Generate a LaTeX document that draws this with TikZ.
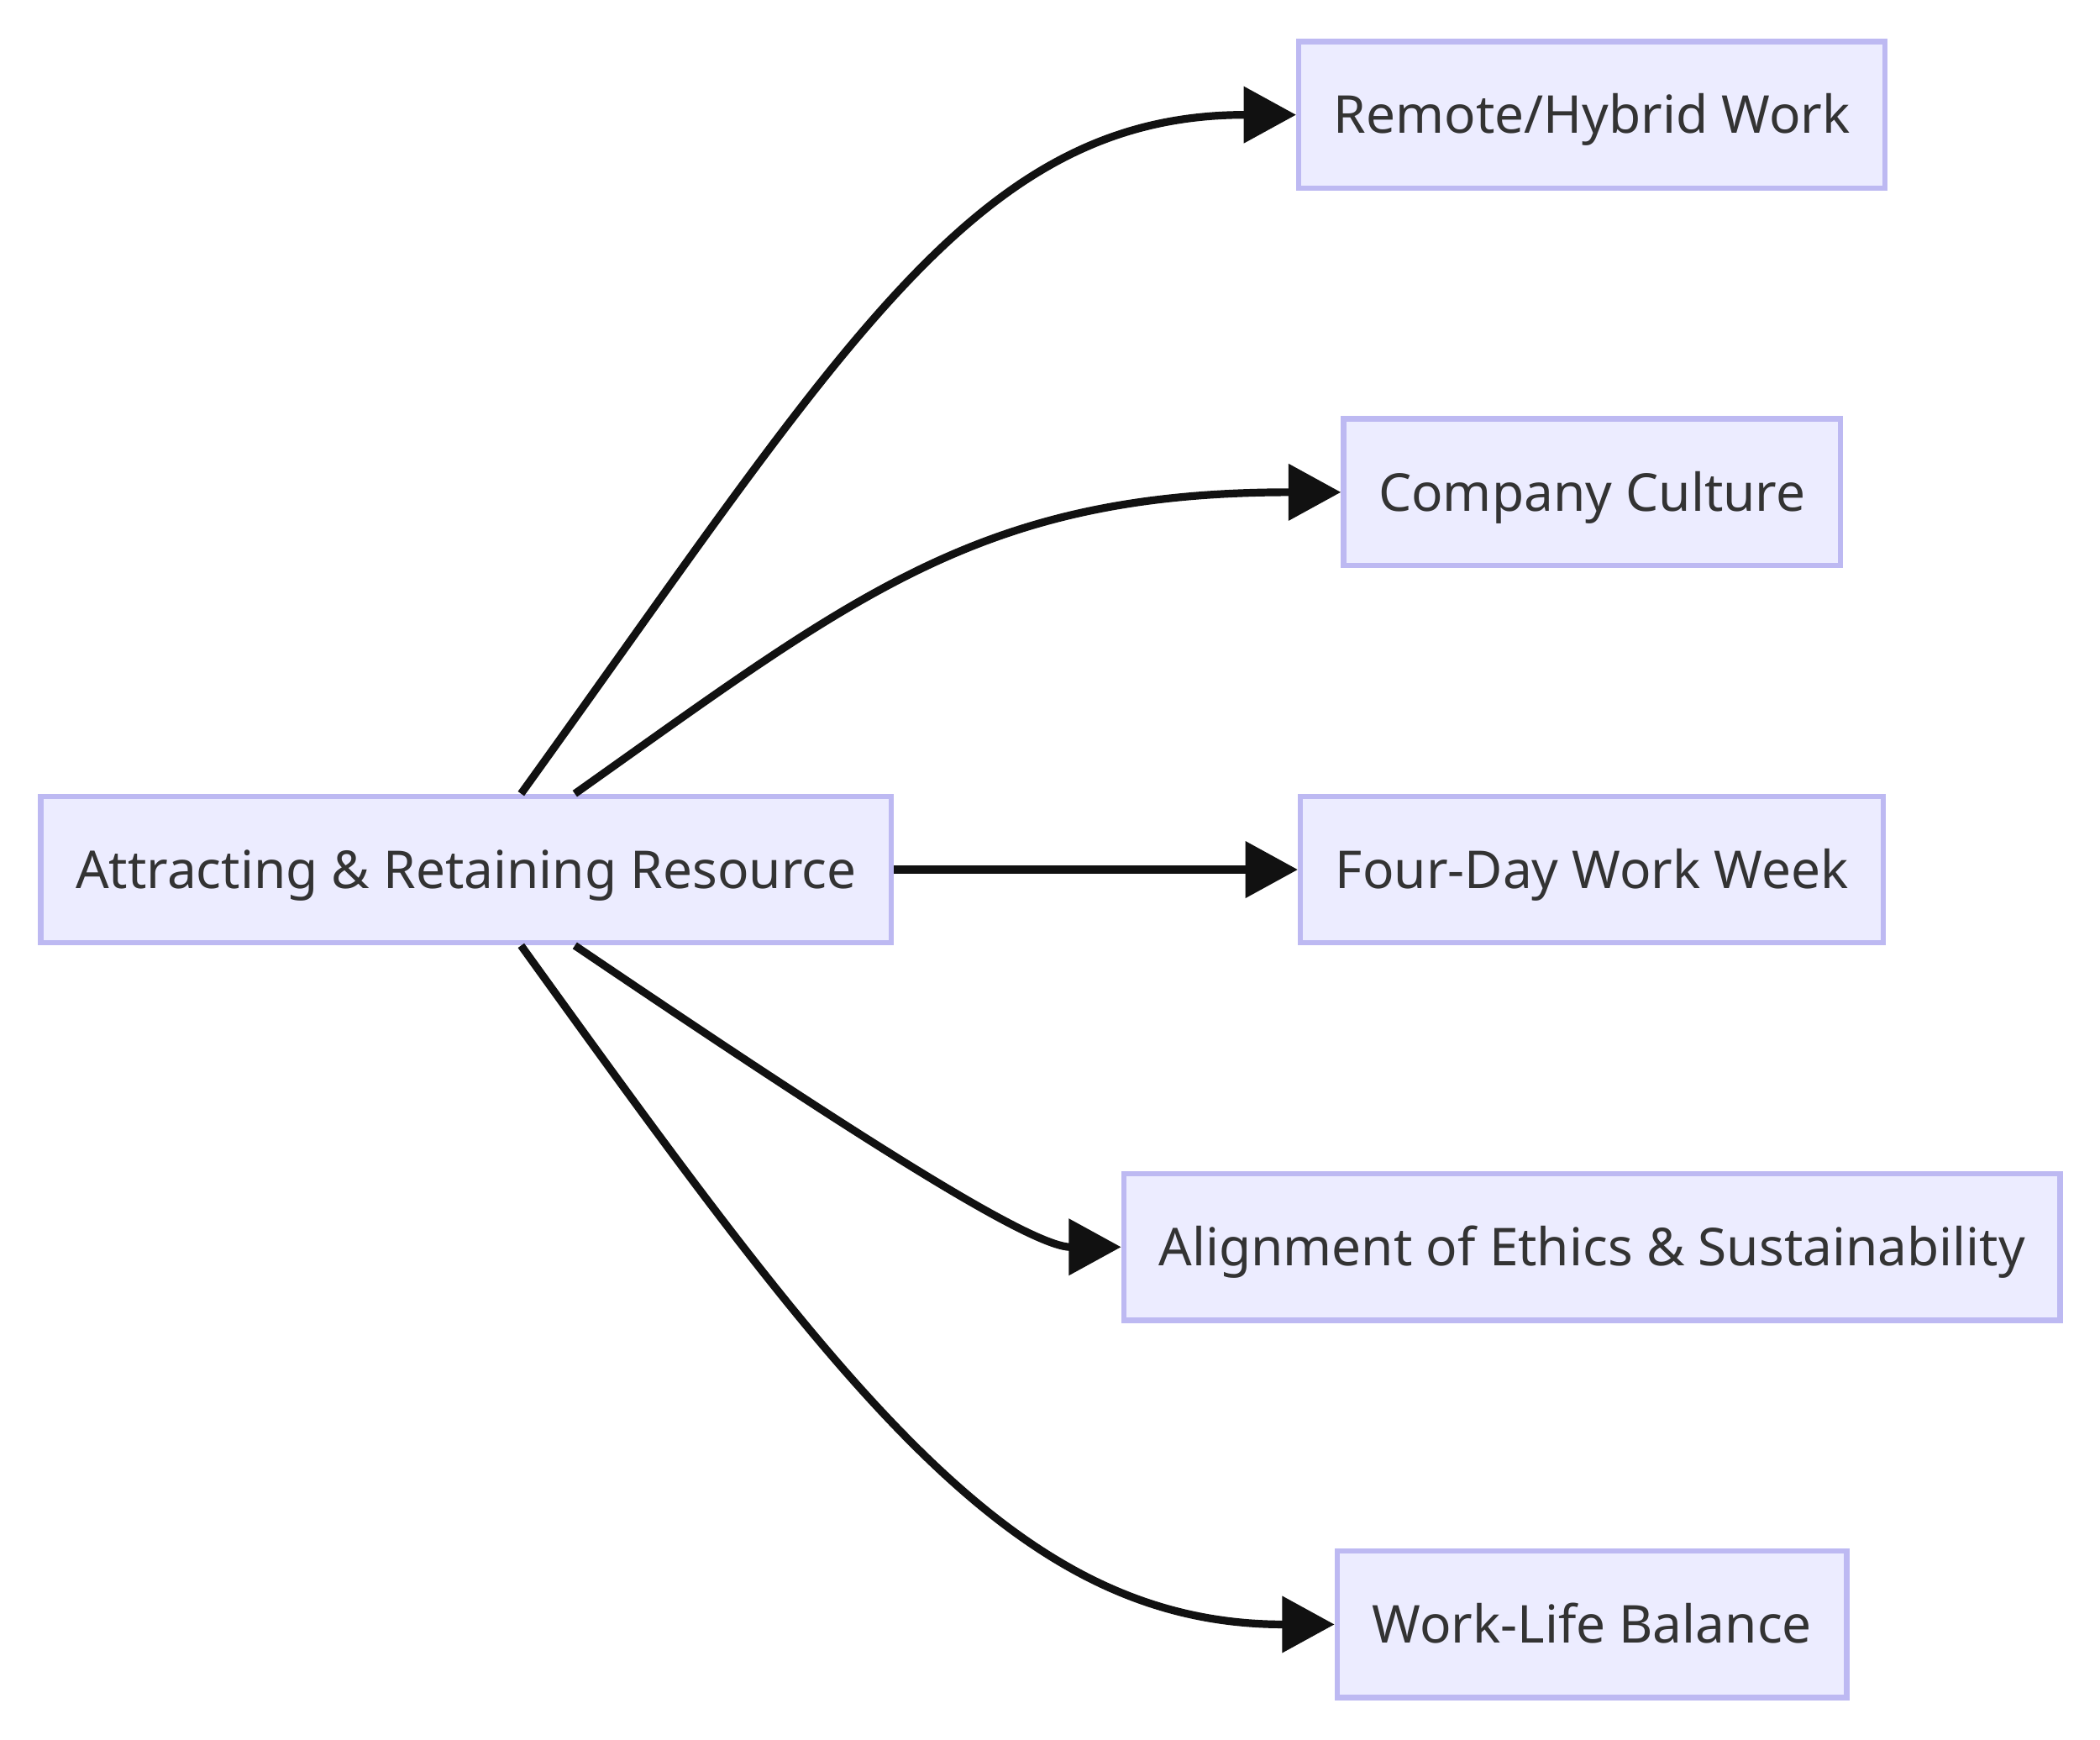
\documentclass[tikz,border=0pt]{standalone}
\usepackage{fontspec}
\setmainfont{Noto Sans}
\usetikzlibrary{arrows.meta,positioning,calc}

\definecolor{boxfill}{HTML}{ECECFF}
\definecolor{boxline}{HTML}{BDB9F2}
\definecolor{txtgray}{HTML}{333333}
\definecolor{wire}{HTML}{111111}

\tikzset{
  nodebox/.style={draw=boxline, fill=boxfill, line width=0.08cm, text=txtgray,
    font=\fontsize{22.1}{26}\selectfont, inner xsep=0.52cm, inner ysep=0pt,
    minimum height=2.18cm, text height=15.8pt, text depth=0pt},
  conn/.style={draw=wire, line width=0.115cm,
    -{Triangle[length=0.78cm,width=0.82cm]}},
}

\begin{document}
\begin{tikzpicture}[x=0.02cm, y=-0.02cm]
            \useasboundingbox (0,0) rectangle (1562.5,1293.75);
            \node[nodebox] (arr) at (346.7,646.9) {Attracting \& Retaining Resource};
            \node[nodebox] (four) at (1184.5,646.9) {Four-Day Work Week};
            \node[nodebox, above=3.356cm of four] (cul) {Company Culture};
            \node[nodebox, above=3.356cm of cul] (rem) {Remote/Hybrid Work};
            \node[nodebox, below=3.356cm of four] (eth) {Alignment of Ethics \& Sustainability};
            \node[nodebox, below=3.356cm of eth] (wlb) {Work-Life Balance};
            % edges out of the resource box
            \draw[conn] ($(arr.north)+(41,0)$) .. controls +(242,-336) and +(-238,0) .. (rem.west);
            \draw[conn] ($(arr.north)+(81,0)$) .. controls +(209,-148) and +(-268,0) .. (cul.west);
            \draw[conn] (arr.east) -- (four.west);
            \draw[conn] ($(arr.south)+(81,0)$) .. controls +(201,136) and +(-68,0) .. (eth.west);
            \draw[conn] ($(arr.south)+(41,0)$) .. controls +(242,336) and +(-238,0) .. (wlb.west);
        \end{tikzpicture}
\end{document}
